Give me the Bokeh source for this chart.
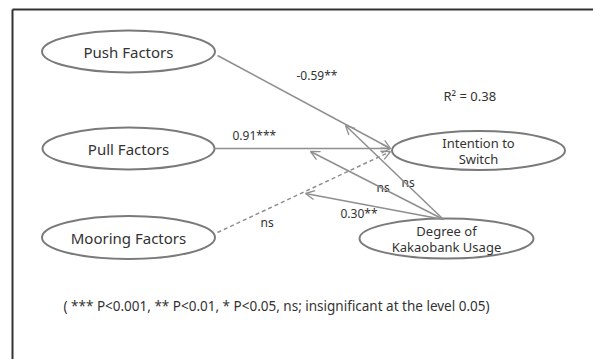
from bokeh.plotting import figure
from bokeh.models import Range1d, Arrow, OpenHead
from bokeh.core.properties import value
from bokeh.embed import file_html
from bokeh.resources import INLINE

# ---- diagram content ----
node_names = ["Push Factors", "Pull Factors", "Mooring Factors", "Intention to\nSwitch", "Degree of\nKakaobank Usage"]
node_x = [128, 128, 128, 478, 446]
node_y = [51, 148, 237, 150, 238]
node_w = [173, 172, 173, 173, 174]
node_h = [42, 42, 43, 39, 40]

# main paths: (start x, start y, end x, end y, dashed)
path_x0 = [217, 214, 217]
path_y0 = [55, 148, 232]
path_x1 = [390, 390, 390]
path_y1 = [148, 148, 151]
path_dash = [False, False, True]

# moderating paths from Degree of Kakaobank Usage
mod_x0 = [443, 443, 443]
mod_y0 = [219, 219, 219]
mod_x1 = [345, 310, 305]
mod_y1 = [125, 151, 193]

coef_labels = ["-0.59**", "0.91***", "ns", "ns", "ns", "0.30**"]
coef_x = [296, 232, 260, 376, 401, 340]
coef_y = [75, 135, 222, 187, 182, 213]

r2_label = "R\u00b2 = 0.38"
footnote = "( *** P<0.001, ** P<0.01, * P<0.05, ns; insignificant at the level 0.05)"

FONT = "Noto Sans"
TXT = "#333333"
LINE = "#8f8f8f"

W, H = 593, 359
p = figure(width=W, height=H, output_backend="svg", toolbar_location=None,
           x_range=Range1d(0, W), y_range=Range1d(H, 0),
           min_border=0, min_border_left=0, min_border_right=0,
           min_border_top=0, min_border_bottom=0)
p.axis.visible = False
p.grid.visible = False
p.outline_line_color = None
p.background_fill_color = "white"
p.border_fill_color = "white"

# frame
p.line([12, 12], [9, H], line_color="#333333", line_width=2)
p.line([12, W], [9, 9], line_color="#333333", line_width=2)

# main paths
for x0, y0, x1, y1, d in zip(path_x0, path_y0, path_x1, path_y1, path_dash):
    p.add_layout(Arrow(end=OpenHead(size=9, line_color=LINE, line_width=1.3),
                       x_start=x0, y_start=y0, x_end=x1, y_end=y1,
                       line_color=LINE, line_width=1.5,
                       line_dash="4 3" if d else "solid"))

for x0, y0, x1, y1 in zip(mod_x0, mod_y0, mod_x1, mod_y1):
    p.add_layout(Arrow(end=OpenHead(size=9, line_color=LINE, line_width=1.3),
                       x_start=x0, y_start=y0, x_end=x1, y_end=y1,
                       line_color=LINE, line_width=1.5))

# nodes
p.ellipse(x=node_x, y=node_y, width=node_w, height=node_h,
          fill_color="white", line_color="#7a7a7a", line_width=2)

for name, x, y in zip(node_names, node_x, node_y):
    lines = name.split("\n")
    if len(lines) == 1:
        p.text(x=[x], y=[y], text=[name], text_font=value(FONT), text_font_size="15px",
               text_color=TXT, text_align="center", text_baseline="middle")
    else:
        p.text(x=[x, x], y=[y - 8, y + 8], text=lines, text_font=value(FONT),
               text_font_size="13px", text_color=TXT, text_align="center",
               text_baseline="middle")

p.text(x=coef_x, y=coef_y, text=coef_labels, text_font=value(FONT), text_font_size="12px",
       text_color=TXT, text_align="left", text_baseline="middle")
p.text(x=[443], y=[95], text=[r2_label], text_font=value(FONT), text_font_size="13px",
       text_color=TXT, text_align="left", text_baseline="middle")

p.text(x=[63], y=[305], text=[footnote], text_font=value(FONT), text_font_size="13.5px",
       text_color=TXT, text_align="left", text_baseline="middle")

open("out.html", "w").write(file_html(p, INLINE))
